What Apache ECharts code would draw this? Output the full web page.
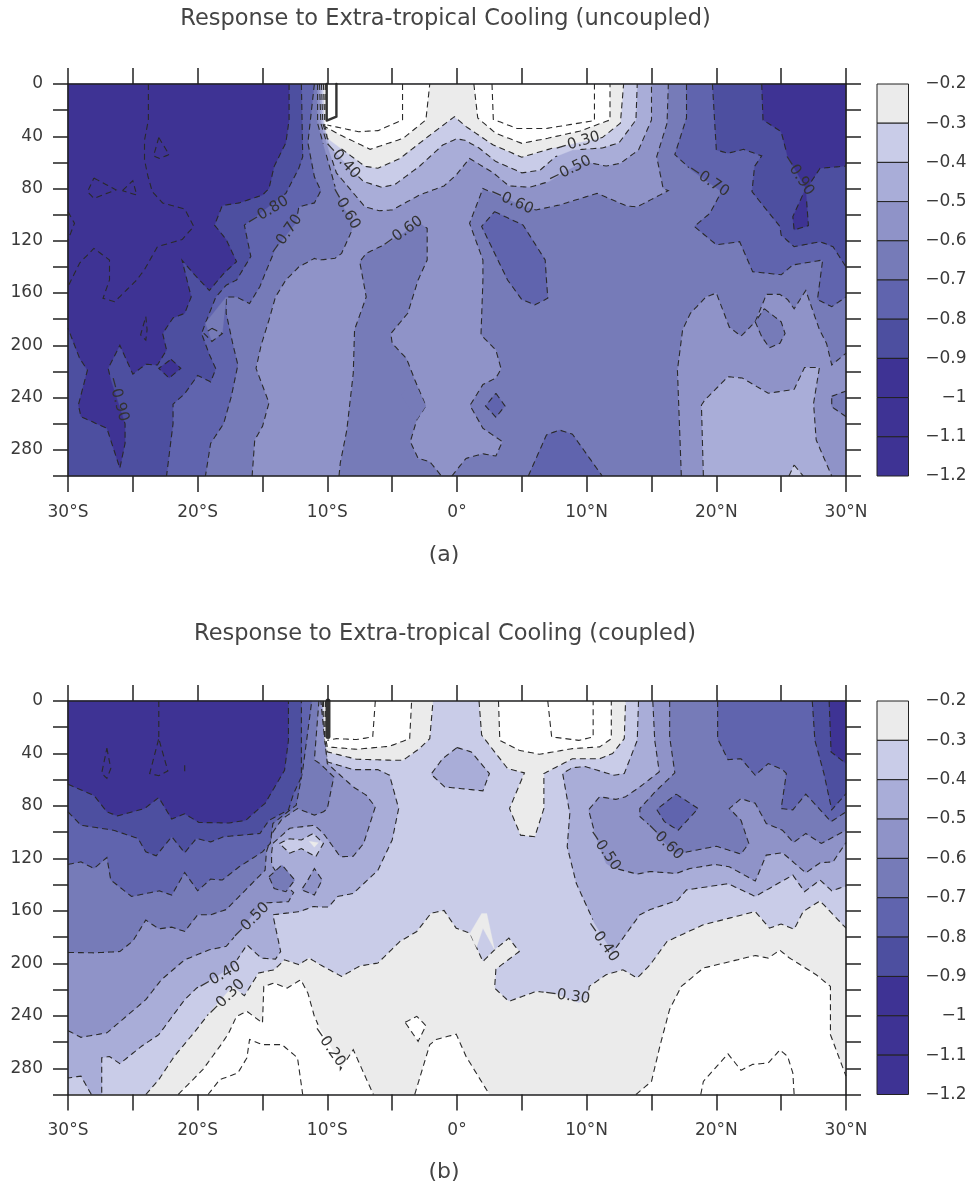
<!DOCTYPE html>
<html><head><meta charset="utf-8">
<style>html,body{margin:0;padding:0;background:#fff}#c{width:970px;height:1183px}</style>
<script src="https://cdn.jsdelivr.net/npm/echarts@6/dist/echarts.min.js"></script>
</head><body><div id="c"></div>
<script>
// Contour bands: colours per level, from the colour bar
const colorLevels=[-0.2,-0.3,-0.4,-0.5,-0.6,-0.7,-0.8,-0.9,-1,-1.1,-1.2];
const colorBands=['#ebebeb','#c9cce8','#a9add8','#8f93c8','#767bb8','#6064ae','#4d4fa0','#3e3394','#3e3394','#3e3394'];
const WHITE='#ffffff',C3='#ebebeb',C4='#c9cce8',C5='#a9add8',C6='#8f93c8',C7='#767bb8',C8='#6064ae',C9='#4d4fa0',C10='#3e3394';
const titleA='Response to Extra-tropical Cooling (uncoupled)';
const titleB='Response to Extra-tropical Cooling (coupled)';
const full=[[-30,0],[30,0],[30,300],[-30,300]];

// Panel (a) contours as [latitude, depth]
const a06Center=[[-10.75,0],[-10.75,30],[-10.2,50],[-9.4,78.6],[-8.7,95],[-8,106.6],[-8.1,112],[-8.9,129.6],[-9.4,133.4],[-10.6,134.7],[-11,133.5],[-12.2,140],[-13.2,150],[-14,163],[-14.5,180.6],[-15.1,199.7],[-15.5,217.6],[-14.5,244],[-15,262],[-15.6,272.5],[-15.8,300],[-9.1,300],[-9,290],[-8.5,265],[-8,221.4],[-7.9,188],[-7,163],[-7.5,136],[-7,129.6],[-5.4,122],[-2.9,106],[-2.3,110.5],[-2.3,134.7],[-3,150],[-3.8,175.5],[-5.1,191],[-5,198.5],[-3.9,210],[-3.25,226.5],[-2.4,246.4],[-3.1,257],[-3.6,273.7],[-3,286.5],[-2.1,289],[-1.2,300],[-0.4,300],[0.7,286.5],[2,283],[3,284.7],[3.5,273.7],[2,263.5],[1,246],[2,230],[3,225],[3.4,218],[3,203.6],[1.85,192],[2,150],[2,134.7],[0.97,106.6],[2,80],[2.9,84],[5.3,94],[6.1,96.4],[7.9,92.6],[10.8,83.7],[13.1,93.4],[13.9,94],[16.3,81.6],[15.9,80],[15.4,55.6],[16.2,30],[16.3,0]];
const a06LowerRight=[[17.3,300],[17,219],[17.4,188],[18,175.5],[19.2,163],[20,160],[21,186],[21.9,193],[23,182],[23.7,165],[23.85,161],[24.9,161],[25.5,165],[26,172],[26.9,158],[27.95,188],[28.5,198.5],[28.9,215],[30,206],[30,300]];
const a07Wedge=[[28.9,239],[30,235],[30,254.6],[28.9,247]];
const a07Pocket=[[23.7,172],[25,182],[25.3,191],[24.9,198.5],[24.1,201.8],[23.5,193.4],[23,182]];
const a05Top=[[-10.6,0],[-10.5,30],[-9.9,50],[-9.3,68],[-7.1,94],[-6,97],[-5,96.4],[-2.9,85],[-1,78],[-0.06,69.6],[0.97,57],[2.8,68],[4,78],[5.6,79],[7.1,74.7],[8.5,66],[9.8,59.4],[11.5,62.8],[12.6,60.7],[14,50.5],[15,27.5],[15,0]];
const a05LowerRight=[[19,300],[18.85,245.7],[19.1,242],[20.9,224],[22,225],[24,236.7],[26,233.7],[26.8,217],[27.95,217],[27.5,244.4],[27.7,272.4],[28.9,300]];
const a04Tip=[[26,291.6],[26.7,300],[25.6,300]];
const a04Top=[[-10.45,0],[-10.35,30],[-9.8,48],[-8,67],[-7.2,74.7],[-5.8,79],[-4.8,77],[-2.9,63],[-1.1,46.7],[-0.06,42],[0.6,43],[1.7,49],[3,59.4],[5,68],[6.4,66],[7.6,55.6],[8.9,50.5],[11.2,49],[12.5,45],[13.8,27.5],[13.9,0]];
const a03Top=[[-10.3,0],[-10.2,30],[-10,41.6],[-7.1,63],[-6.1,64.5],[-4.4,57],[-2.2,40],[-0.2,25],[0.7,32.6],[2.8,46.7],[5,56],[7.4,49],[9.3,45],[11.2,41],[12.6,30],[12.85,0]];
const a02Left=[[-10.15,0],[-10.2,32.6],[-9,39],[-6.7,50],[-4.15,41.6],[-2.4,27.5],[-2.1,0]];
const a02Right=[[1.3,0],[1.6,26],[3,37.8],[5,45.4],[7,41.5],[9.5,36],[11.8,27.5],[11.8,0]];
const a01Left=[[-4.2,0],[-4.2,27.5],[-6.1,35.7],[-7.6,36.5],[-10,31.4]];
const a01Right=[[2.7,0],[2.8,27],[4.6,34],[6.9,34],[10.6,28],[10.6,0]];
const a07Left=[[-11,0],[-11.5,45],[-11,71],[-10.5,81.6],[-11,91],[-12.2,94],[-12.4,106],[-14,126],[-14.8,145],[-15.2,155],[-16,168],[-17,163],[-17.8,163],[-17.8,175.5],[-17.3,198.5],[-16.9,215],[-17.4,239],[-18,260],[-19,275],[-19.4,300],[-30,300],[-30,0]];
const a08Left=[[-12,0],[-11.9,55.6],[-12.2,64.5],[-13.2,83.7],[-14.7,95],[-16.4,108],[-15.9,132],[-17,150],[-17.8,154],[-18.6,163],[-19.4,183],[-19.7,191],[-19.1,207],[-18.6,218],[-19,228],[-20,223],[-21,237],[-21.9,245],[-21.9,260],[-22.4,300],[-30,300],[-30,0]];
const a09Left=[[-12.95,0],[-12.95,27.5],[-13.2,45],[-14.1,63],[-14.5,80],[-15,85],[-16.8,91],[-18.1,93],[-18.7,108],[-17.8,119],[-17,136],[-17.9,144],[-19.1,158],[-20.1,147.5],[-21.2,135],[-20.5,163],[-21,175.5],[-21.9,179],[-22.7,191],[-22.4,203.6],[-23.1,215],[-24,214.5],[-25,222],[-26,200],[-26.9,217.6],[-26.7,226.5],[-25.6,260],[-25.6,275],[-26,294],[-27,263.5],[-29,254.6],[-29.2,245.7],[-28.5,219],[-29.1,210],[-30,187],[-30,0]];
const a09Diamond=[[-22.05,210.7],[-21.3,217.6],[-22.2,225],[-23,217.6]];
const a07Sliver=[[-17.8,163],[-19.4,183],[-18.9,197],[-18.1,191]];
const a07Loop=[[-18.9,187],[-18.1,191],[-18.9,197],[-19.5,191]];
const a10Upper=[[-23.8,0],[-23.8,27.5],[-24.1,43],[-24.1,58],[-23.85,70],[-23.5,82.4],[-22.7,91],[-21,95.7],[-20.3,109],[-21.2,119],[-23.1,124.5],[-24.1,142],[-24.7,150],[-26.4,166.6],[-27.3,164],[-26.8,150],[-26.8,134.7],[-28,125.8],[-29.1,137],[-30,155]];
const a10Bay=[[-30,97.7],[-29.5,106.6],[-30,119.4]];
const a10LoopA=[[-28,72],[-26.3,81],[-28,87.5],[-28.5,82.5]];
const a10LoopB=[[-25.8,81.6],[-25,74],[-24.7,85]];
const a10LoopC=[[-23,41],[-22.2,54],[-22.95,57],[-23.4,55]];
const a10LoopD=[[-24,178],[-23.9,188],[-24,196],[-24.4,192]];
const a07Right=[[17.7,0],[17.7,26],[16.8,54],[18.1,66],[20.4,82.4],[19.5,99],[18.3,109],[20,123],[21.8,120.7],[22.8,143.6],[25,146],[25.9,138.5],[28.2,134.7],[27.8,165],[28.9,170.4],[30,163],[30,0]];
const a08Right=[[19.7,0],[20,50.5],[20.9,53],[22.1,50],[23.5,55],[22.95,63],[22.75,82.4],[24.9,109],[25,115.6],[26,124.5],[28,120.7],[29,124.5],[30,140],[30,0]];
const a09Right=[[23.5,0],[23.6,27.5],[25,36.5],[25.5,55.6],[26.9,79.8],[25.9,101.5],[26,111.7],[27.1,108.4],[26.9,81],[28,64.5],[30,62.8],[30,0]];
const a07BottomPatch=[[5.5,300],[6.9,268.6],[7.9,264.8],[8.9,268],[11.2,300]];
const a07Oval=[[2.9,97.7],[5.1,108],[6.8,134.7],[6.9,150],[7,164],[6,169],[5,165],[3.9,150],[1.9,109]];
const a07Small=[[3,236.7],[3.7,246.4],[3,255],[2.2,246.4]];
const a06Tiny=[[-4.3,238],[-3.4,226],[-2.4,246.4],[-3.1,257]];
const a10Bar=[[-10.05,0],[-10.05,28],[-9.3,25],[-9.3,0]];

// Panel (b) contours as [latitude, depth]
const b04Left=[[-10.4,0],[-10.2,30],[-10,46.4],[-8,52.3],[-6.1,52.3],[-5.2,56.6],[-4.5,82],[-5,106],[-6.1,129],[-8,146.7],[-9.2,149],[-9.9,157],[-10.6,157],[-11.1,156.7],[-12.1,160.5],[-14.2,163],[-13.6,191],[-14,196.8],[-15.1,196],[-16.2,185.9],[-17.3,202.4],[-20.1,219],[-21,227.7],[-23,254.4],[-24.3,263],[-26,276.5],[-26.8,271],[-27.4,272],[-27.4,300],[-28.2,300],[-29,286],[-30,287.4],[-30,0]];
const b05Left=[[-30,251.3],[-29,256.4],[-27,253],[-24,227.7],[-22.8,212.5],[-21,197.3],[-19.1,189.7],[-17.8,187],[-16.8,175.7],[-15,154],[-13,153],[-12.6,146],[-13.3,140],[-14.3,125],[-14.3,116],[-14.2,108.6],[-12.9,97],[-11,94.7],[-10.57,98.5],[-10.2,102.3],[-9,118.8],[-8,118.3],[-7.2,108.6],[-6.3,80.7],[-7,71.8],[-8,65.5],[-10,47.7],[-10.2,30],[-10.5,0],[-30,0]];
const b06Left=[[-30,191.7],[-28,192],[-26,191],[-25,183],[-24,167],[-23,173.7],[-22,172.4],[-21,175.7],[-20,163],[-19,163],[-17.8,159],[-16.3,144],[-14.8,129],[-14.7,115],[-14.2,100],[-13.5,90],[-12.3,82],[-11,87],[-10.3,84.5],[-10,82],[-9.5,57.9],[-10.57,47.7],[-11,45],[-10.65,0],[-30,0]];
const b07Left=[[-30,124.6],[-29,122.6],[-28,127.7],[-27,119.3],[-26.7,136.5],[-25.1,149],[-22.95,144.7],[-22,148],[-21,130.7],[-20,144.7],[-19,135.8],[-18.1,136.5],[-16.8,126.4],[-15,115],[-14.4,108.6],[-14.2,93.4],[-12.4,79.4],[-11.9,52.8],[-11.2,0],[-30,0]];
const b08Left=[[-30,84.5],[-29,94.7],[-26.5,98.5],[-24.6,104.8],[-24,115],[-23.2,118],[-22,103.5],[-21,115.7],[-20.1,104.8],[-19,107.4],[-18,103.5],[-15.2,101],[-14.5,91],[-13,83],[-12.6,70.5],[-12,57.9],[-12,0],[-30,0]];
const b09Left=[[-30,63.5],[-28,72],[-27,84.5],[-26.2,87.6],[-24.1,82],[-23,73.6],[-22,90],[-21,86],[-19.9,92.6],[-17.6,93],[-16.3,91],[-14.8,78],[-13.3,52.8],[-13,30],[-13,0],[-30,0]];
const b10Spike=[[-23,0],[-23,28.7],[-22.3,53.3],[-23,57],[-23.7,55.3],[-23,28.7]];
const b10LoopA=[[-27,36],[-26.7,51.5],[-27,59],[-27.4,55]];
const b10Tick=[[-21,49],[-21,55]];
const b07Patch=[[-14.5,134],[-13.5,125],[-12.5,136.5],[-13.2,145.4],[-14.1,143]];
const b06Patch=[[-11.5,136.5],[-11,127.7],[-10.4,136.5],[-11,147.9],[-12,144]];
const b04Spot=[[-13.7,108.6],[-12.9,105],[-12,106],[-11.1,101],[-10.3,108.6],[-10.9,118.8],[-12,112.5],[-12.9,116]];
const b03Spot=[[-11.4,107],[-10.7,108],[-11,111.5]];
const b04Island=[[0,35.5],[1.1,38.8],[2.5,55.3],[2,68.5],[-0.95,65.5],[-2,55.8],[-1.1,43.9]];
const b04Right=[[14,0],[13.9,30],[12.9,55.3],[12.1,56.6],[9.9,50],[8.9,50.8],[8.15,55.3],[8.7,85.8],[8.5,111],[9.2,139],[10.6,169.4],[12,191.7],[14.1,163],[14.9,159],[17,152],[17.7,144],[20.9,139.3],[23,149],[25.9,132.7],[26.8,145.4],[28,136.5],[28.9,144.7],[30,141],[30,0]];
const b05Right=[[15.1,0],[15.25,30],[15.6,54],[14.1,65.5],[13,73],[12.25,75],[11,73],[10.15,83],[10.7,103.5],[11.5,123.9],[12,127],[13.9,132],[14.9,130],[16.9,131.5],[17.95,127.7],[19.9,124.6],[21,126.4],[23,137.3],[23.85,117.5],[25.1,115.7],[26.9,131],[28,123.4],[29,122.6],[30,108],[30,0]];
const b06Right=[[16.4,0],[16.4,27.4],[16.8,54.8],[15.3,69],[14.1,82],[14.1,88],[15.1,97],[15.8,106],[16.9,116.7],[20,110.7],[21.9,116.7],[22.5,108.6],[21.9,90.9],[21,82],[21.9,74.4],[23,78],[23.85,93.4],[25.1,98.5],[25.95,107.9],[26.9,101],[28.1,108.6],[30,98.5],[30,0]];
const b07Right=[[20.1,0],[20.1,28.7],[20.9,44.7],[21.9,44],[23,56.6],[24,47.7],[25.1,52.3],[25.4,55.3],[25,82],[25.9,83],[26.9,71],[28.85,92],[30,84.5],[30,0]];
const b07Island=[[16.9,71],[18.6,82],[17.05,98.5],[16,92],[15.4,82.7]];
const b08Right=[[27.4,0],[27.6,30],[28.3,55.3],[28.9,83],[30,70.6],[30,0]];
const b09Right=[[28.7,0],[28.85,38.8],[30,47.7],[30,0]];
const b03TopLeft=[[-10.3,0],[-10.2,30],[-10,38.8],[-7.75,44.4],[-4.8,45.2],[-4.16,45.2],[-2.9,36.3],[-2.1,28.7],[-1.85,0]];
const b02TopLeft=[[-10.15,0],[-10.1,30],[-10,35],[-7.75,36.8],[-5.2,34.5],[-3.65,28.7],[-3.5,0]];
const b01TopLeft=[[-6.3,0],[-6.5,27.4],[-7.75,29.4],[-9.3,28.7],[-10,30]];
const b03TopRight=[[1.7,0],[1.9,26],[3.9,51.5],[5.2,54.8],[4.05,82],[4.9,102.3],[6,103.5],[6.7,82],[6.7,55.3],[8.9,44],[11,44],[12,40],[12.9,28.7],[13,0]];
const b02TopRight=[[3.2,0],[3.3,30],[4.8,37.6],[6.35,40.6],[8.9,36.3],[11,35],[11.9,28.7],[11.9,0]];
const b01TopRight=[[7,0],[7.3,27.4],[9.4,30],[10.5,27.4],[10.5,0]];
const b03Lower=[[-24,300],[-23,288.7],[-21.8,270.9],[-20.2,251.9],[-19,236.6],[-17.3,217.6],[-16.4,224.7],[-15.3,207.4],[-14.1,204.9],[-13.3,197.3],[-12.2,201],[-11.4,196],[-10.57,201],[-8.9,210],[-7.5,202],[-6.1,199.8],[-4.4,183.3],[-3.1,175.7],[-2,161.8],[-1,159.7],[-0.06,173.2],[1,177],[2,198.6],[2.9,189.7],[4,180.8],[4.8,191],[3,204.4],[2.9,218.9],[4,229],[6.1,221.4],[7.4,222.7],[9.4,230.3],[10.1,226.5],[10.2,217.6],[11.5,208.7],[12.8,204.9],[13.9,211.2],[14.9,201],[16.2,183.3],[19,170.6],[23,160.5],[24.1,173.2],[25,170],[26,174],[26.7,160.5],[28,152.4],[30,173.2],[30,300]];
const b03Wedge=[[1,177],[1.9,162],[2.3,162],[2.9,189.7],[2,173.2],[1.5,188]];
const b02LowerLeft=[[-21.5,300],[-19.6,281],[-18.1,260.7],[-17.6,253],[-17,240.4],[-16.2,236.6],[-15,245.5],[-14.9,217.6],[-14.1,215],[-13.1,218.9],[-12.05,212.5],[-11.5,222.7],[-11,240.4],[-10.6,249.3],[-9,276],[-9,281],[-8,265.8],[-7.2,283.6],[-6.45,300]];
const b01LowerLeft=[[-19.2,300],[-18.3,288.7],[-16.9,283.6],[-16.2,272],[-16,258],[-15,262],[-13.5,262],[-12.3,272],[-11.9,300]];
const b02Center=[[-3.26,300],[-2.1,262],[-1.6,258],[-0.06,254],[0.7,271],[2.5,300]];
const b02Small=[[-4,245],[-3.1,240.4],[-2.4,247.5],[-3,259.5]];
const b02LowerRight=[[13.8,300],[15,290],[15.65,263],[16.4,235],[17.3,217.6],[19,203.6],[23,194],[24,196],[24.9,190],[25.65,196],[27.7,208.7],[28.8,217.6],[28.8,254.4],[30,286],[30,300]];
const b01LowerRight=[[18.8,300],[19,290],[20.9,269],[21.9,281.5],[22.8,277],[24,276],[24.9,266],[25.5,271],[25.9,283.6],[26,300]];
const b10Bar=[[-9.95,0],[-9.95,27]];

// Contour labels: latitude, depth, angle, text
const labelsA=[[-14.6,97.7,31,'-0.80'],[-13.2,115.6,55,'-0.70'],[-26.15,241,-75,'-0.90'],[-8.9,58,-47,'-0.40'],[-8.65,95,-60,'-0.60'],[-4.2,113.8,35,'-0.60'],[4.2,89.5,-24,'-0.60'],[9.3,45,16,'-0.30'],[8.7,65.8,26,'-0.50'],[19.4,74,-34,'-0.70'],[26.3,69.6,-57,'-0.90']];
const labelsB=[[-15.9,168,45,'-0.50'],[-18.3,210,29,'-0.40'],[-17.8,226.5,45,'-0.30'],[-9.9,263.3,-55,'-0.20'],[11.35,113.7,-56,'-0.50'],[16,107,-45,'-0.60'],[11.2,183.3,-55,'-0.40'],[8.5,225,-8,'-0.30']];

// fill colour, points, mode ('' fill+dash, 'n' fill only, 'o' open dashed line, 'c' closed dashed line, 'b' heavy line)
const layersA=[
 [C7,full,'n'],[C6,a06Center,''],[C6,a06LowerRight,''],[C7,a07Wedge,''],[C7,a07Pocket,''],
 [C5,a05Top,''],[C5,a05LowerRight,''],[C4,a04Tip,''],[C4,a04Top,''],[C3,a03Top,''],[WHITE,a02Left,''],[WHITE,a02Right,''],
 [null,a01Left,'o'],[null,a01Right,'o'],
 [C8,a07Left,''],[C9,a08Left,''],[C10,a09Left,''],[C10,a09Diamond,''],[C7,a07Sliver,'n'],[null,a07Loop,'c'],
 [null,a10Upper,'o'],[null,a10Bay,'o'],[null,a10LoopA,'c'],[null,a10LoopB,'c'],[null,a10LoopC,'c'],[null,a10LoopD,'c'],
 [C8,a07Right,''],[C9,a08Right,''],[C10,a09Right,''],[C8,a07BottomPatch,''],[C8,a07Oval,''],[C8,a07Small,''],[C7,a06Tiny,'n'],
 [null,a10Bar,'b']
];
const layersB=[
 [C4,full,'n'],[C5,b04Left,''],[C5,b04Right,''],[C5,b04Island,''],[C6,b05Left,''],[C6,b05Right,''],[C7,b06Left,''],[C7,b06Right,''],
 [C8,b07Left,''],[C8,b07Right,''],[C8,b07Island,''],[C9,b08Left,''],[C9,b08Right,''],[C10,b09Left,''],[C10,b09Right,''],
 [null,b10Spike,'o'],[null,b10LoopA,'c'],[null,b10Tick,'o'],
 [C7,b07Patch,''],[C6,b06Patch,''],[C4,b04Spot,''],[C3,b03Spot,'n'],
 [C3,b03Lower,''],[C3,b03Wedge,'n'],[C3,b03TopLeft,''],[C3,b03TopRight,''],
 [WHITE,b02TopLeft,''],[WHITE,b02TopRight,''],[WHITE,b02LowerLeft,''],[WHITE,b02Center,''],[WHITE,b02Small,''],[WHITE,b02LowerRight,''],
 [null,b01TopLeft,'o'],[null,b01TopRight,'o'],[null,b01LowerLeft,'o'],[null,b01LowerRight,'o'],
 [null,b10Bar,'B']
];

const FONT='"DejaVu Sans"', TXT='#3a3a3a', DARK='#222222';
const onEdge=(a,b)=>(a[0]===b[0]&&Math.abs(a[0])===30)||(a[1]===b[1]&&(a[1]===0||a[1]===300));
const inLabel=(p,boxes)=>boxes.some(b=>{const dx=p[0]-b.x,dy=p[1]-b.y,c=Math.cos(b.r),s=Math.sin(b.r);
  const u=dx*c-dy*s,v=dx*s+dy*c;return Math.abs(u)<23&&Math.abs(v)<7;});
function dashedPieces(pts,closed,api,boxes){
  const out=[];let cur=[];
  const flush=()=>{if(cur.length>1)out.push(cur);cur=[];};
  const n=closed?pts.length:pts.length-1;
  for(let i=0;i<n;i++){
    const a=pts[i],b=pts[(i+1)%pts.length];
    if(onEdge(a,b)){flush();continue;}
    const pa=api.coord(a),pb=api.coord(b);
    const len=Math.hypot(pb[0]-pa[0],pb[1]-pa[1]),steps=Math.max(1,Math.ceil(len/2));
    for(let k=0;k<=steps;k++){
      const q=[pa[0]+(pb[0]-pa[0])*k/steps,pa[1]+(pb[1]-pa[1])*k/steps];
      if(inLabel(q,boxes))flush();else cur.push(q);
    }
  }
  flush();return out;
}
function bandRenderer(layers,labels){
  return function(params,api){
    const [color,pts,mode]=layers[params.dataIndex];
    const children=[];
    const boxes=labels.map(l=>{const c=api.coord([l[0],l[1]]);return {x:c[0],y:c[1],r:l[2]*Math.PI/180};});
    if(color)children.push({type:'polygon',shape:{points:pts.map(p=>api.coord(p))},style:{fill:color,stroke:color,lineWidth:0.3}});
    if(mode==='b'||mode==='B'){
      children.push({type:'polyline',shape:{points:pts.map(p=>api.coord(p))},style:{fill:null,stroke:'#333333',lineWidth:mode==='B'?5:2.4,lineCap:'round',lineJoin:'round'}});
    }else if(mode!=='n'){
      dashedPieces(pts,mode!=='o',api,boxes).forEach(line=>children.push({type:'polyline',shape:{points:line},style:{fill:null,stroke:'#2a2a2a',lineWidth:1.1,lineDash:[6,4]}}));
    }
    return {type:'group',children};
  };
}
function labelRenderer(labels){
  return function(params,api){
    const l=labels[params.dataIndex],c=api.coord([l[0],l[1]]);
    return {type:'text',x:c[0],y:c[1],rotation:l[2]*Math.PI/180,style:{text:l[3].replace('-','\u2212'),fontFamily:FONT,fontSize:15,fill:'#333333',align:'center',verticalAlign:'middle'}};
  };
}
function cbRenderer(){
  return function(params,api){
    const i=params.dataIndex;
    const a=api.coord([0,colorLevels[i]]),b=api.coord([1,colorLevels[i+1]]);
    return {type:'rect',shape:{x:a[0],y:a[1],width:b[0]-a[0],height:b[1]-a[1]},style:{fill:colorBands[i],stroke:DARK,lineWidth:1}};
  };
}
const axisLine={show:true,onZero:false,lineStyle:{color:DARK,width:1.6}};
const axisTick={show:true,inside:false,length:16,lineStyle:{color:DARK,width:1.5}};
const gridsDef=[{left:68,top:84,width:778,height:392},{left:68,top:701,width:778,height:393.5}];
const xAxes=[],yAxes=[],series=[];
const fmtLat=v=>{if(v%10!==0)return '';if(v===0)return '0\u00b0';return Math.abs(v)+'\u00b0'+(v<0?'S':'N');};
const fmtDepth=v=>v%40===0?String(v):'';
[0,1].forEach(g=>{
  const base=xAxes.length;
  xAxes.push({gridIndex:g,type:'value',position:'bottom',min:-30,max:30,interval:5,z:10,splitLine:{show:false},axisLine,axisTick,
    axisLabel:{formatter:fmtLat,margin:28,fontFamily:FONT,fontSize:17,color:TXT,showMinLabel:true,showMaxLabel:true}});
  xAxes.push({gridIndex:g,type:'value',position:'top',min:-30,max:30,interval:5,z:10,splitLine:{show:false},axisLine,axisTick,axisLabel:{show:false}});
  yAxes.push({gridIndex:g,type:'value',position:'left',inverse:true,min:0,max:300,interval:20,z:10,splitLine:{show:false},axisLine,
    axisTick:{...axisTick,length:15},axisLabel:{formatter:fmtDepth,margin:25,padding:[4,0,0,0],fontFamily:FONT,fontSize:17,color:TXT,showMinLabel:true}});
  yAxes.push({gridIndex:g,type:'value',position:'right',inverse:true,min:0,max:300,interval:20,z:10,splitLine:{show:false},axisLine,
    axisTick:{...axisTick,length:15},axisLabel:{show:false}});
  const layers=g===0?layersA:layersB,labels=g===0?labelsA:labelsB;
  series.push({type:'custom',name:'bands'+g,xAxisIndex:base,yAxisIndex:base,coordinateSystem:'cartesian2d',z:2,silent:true,clip:false,
    renderItem:bandRenderer(layers,labels),data:layers.map(l=>[l[1][0][0],l[1][0][1]]),animation:false});
  series.push({type:'custom',name:'labels'+g,xAxisIndex:base,yAxisIndex:base,coordinateSystem:'cartesian2d',z:3,silent:true,clip:false,
    renderItem:labelRenderer(labels),data:labels.map(l=>[l[0],l[1]]),animation:false});
});
// Colour bars
const cbGrids=[{left:877,top:84,width:31.5,height:392},{left:877,top:701,width:31.5,height:393.5}];
const fmtCb=v=>{const r=Math.round(v*10)/10;return '\u2212'+Math.abs(r);};
cbGrids.forEach((_,k)=>{
  const gi=2+k,ai=xAxes.length;
  xAxes.push({gridIndex:gi,type:'value',min:0,max:1,show:false});
  yAxes.push({gridIndex:gi,type:'value',position:'right',min:-1.2,max:-0.2,interval:0.1,splitLine:{show:false},axisLine:{show:false,onZero:false},axisTick:{show:false},
    axisLabel:{formatter:fmtCb,align:'right',margin:58,padding:[4,0,0,0],fontFamily:FONT,fontSize:17,color:TXT,showMinLabel:true,showMaxLabel:true}});
  series.push({type:'custom',name:'colorbar'+k,xAxisIndex:ai,yAxisIndex:ai,coordinateSystem:'cartesian2d',silent:true,clip:false,
    renderItem:cbRenderer(),data:colorBands.map((c,i)=>[0,colorLevels[i]]),animation:false});
});
const tStyle=s=>({fontFamily:FONT,fontWeight:'normal',fontSize:s,color:'#444444'});
const option={animation:false,backgroundColor:'#ffffff',
  title:[
   {text:titleA,left:440.5,top:3,textAlign:'center',textStyle:tStyle(22.5)},
   {text:'(a)',left:439,top:539,textAlign:'center',textStyle:tStyle(22)},
   {text:titleB,left:440,top:618,textAlign:'center',textStyle:tStyle(22.5)},
   {text:'(b)',left:439,top:1156,textAlign:'center',textStyle:tStyle(22)}
  ],
  grid:[...gridsDef,...cbGrids],xAxis:xAxes,yAxis:yAxes,series};
const chart=echarts.init(document.getElementById('c'),null,{renderer:'canvas'});
chart.setOption(option);
</script></body></html>
